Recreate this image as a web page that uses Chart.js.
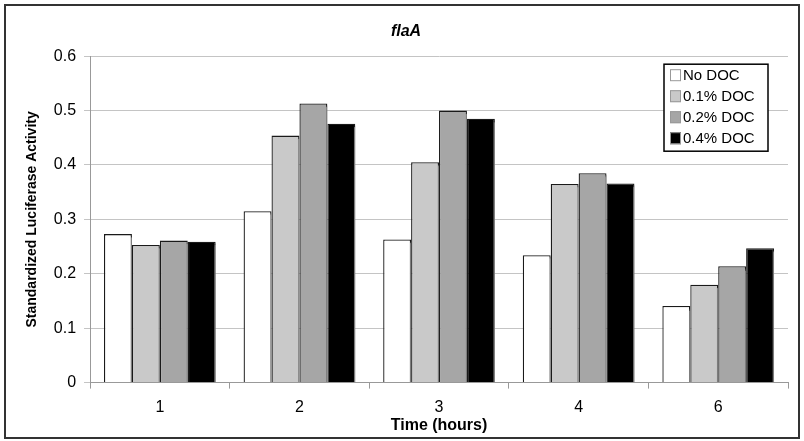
<!DOCTYPE html>
<html>
<head>
<meta charset="utf-8">
<script src="https://cdn.jsdelivr.net/npm/chart.js@4"></script>
<style>
  html, body { margin: 0; padding: 0; background: #fff; }
  #wrap { width: 804px; height: 441px; position: relative; }
</style>
</head>
<body>
<div id="wrap"><canvas id="flaChart"></canvas></div>
<script>
// data
const hours = ["1", "2", "3", "4", "6"];
const noDoc    = [0.273, 0.315, 0.263, 0.234, 0.141];
const doc01    = [0.253, 0.454, 0.405, 0.365, 0.180];
const doc02    = [0.261, 0.513, 0.500, 0.385, 0.214];
const doc04    = [0.259, 0.476, 0.485, 0.366, 0.247];
const yTicks   = [0, 0.1, 0.2, 0.3, 0.4, 0.5, 0.6];

const FONT = "'Liberation Sans', Arial, sans-serif";

function bar(label, data, color) {
  return {
    label: label,
    data: data,
    backgroundColor: color,
    borderColor: "#1a1a1a",
    borderWidth: 1.3,
    borderSkipped: "bottom",
    barPercentage: 1.0,
    categoryPercentage: 0.8,
  };
}

// grey drop shadow behind the bars
const shadowPlugin = {
  id: "barShadow",
  beforeDatasetsDraw(chart) {
    const ctx = chart.ctx;
    ctx.save();
    ctx.shadowColor = "rgba(150,150,150,0.8)";
    ctx.shadowOffsetX = 3;
    ctx.shadowOffsetY = 2;
    ctx.shadowBlur = 1;
  },
  afterDatasetsDraw(chart) {
    chart.ctx.restore();
  }
};

// boxed legend inside the plot + outer frame
const framePlugin = {
  id: "frame",
  afterDraw(chart) {
    const ctx = chart.ctx;
    const area = chart.chartArea;
    ctx.save();
    ctx.strokeStyle = "#333";
    ctx.lineWidth = 2;
    ctx.strokeRect(5, 5, 794, 433);

    const x0 = area.right - 124, y0 = area.top + 8, w = 104, h = 87;
    ctx.fillStyle = "#fff";
    ctx.fillRect(x0, y0, w, h);
    ctx.strokeStyle = "#000";
    ctx.lineWidth = 1.5;
    ctx.strokeRect(x0, y0, w, h);
    ctx.font = "15px " + FONT;
    ctx.textBaseline = "middle";
    chart.data.datasets.forEach(function (ds, i) {
      const cy = y0 + 11 + i * 21;
      ctx.fillStyle = ds.backgroundColor;
      ctx.fillRect(x0 + 6, cy - 6, 11, 12);
      ctx.strokeStyle = "#999";
      ctx.lineWidth = 1;
      ctx.strokeRect(x0 + 6.5, cy - 5.5, 10, 11);
      ctx.fillStyle = "#000";
      ctx.fillText(ds.label, x0 + 19, cy + 1);
    });
    ctx.restore();
  }
};

new Chart(document.getElementById("flaChart"), {
  type: "bar",
  data: {
    labels: hours,
    datasets: [
      bar("No DOC", noDoc, "#ffffff"),
      bar("0.1% DOC", doc01, "#c9c9c9"),
      bar("0.2% DOC", doc02, "#a6a6a6"),
      bar("0.4% DOC", doc04, "#000000"),
    ],
  },
  options: {
    responsive: true,
    maintainAspectRatio: false,
    animation: false,
    layout: { padding: { left: 24, right: 16, top: 0, bottom: 6 } },
    plugins: {
      legend: { display: false },
      tooltip: { enabled: false },
      title: {
        display: true,
        text: "flaA",
        color: "#000",
        font: { family: FONT, size: 16, weight: "bold", style: "italic" },
        padding: { top: 22, bottom: 15 },
      },
    },
    scales: {
      x: {
        offset: true,
        grid: { offset: true, drawOnChartArea: false, drawTicks: true, tickLength: 6, color: "#999" },
        border: { color: "#999", width: 1 },
        ticks: { color: "#000", padding: 9, font: { family: FONT, size: 16 } },
        title: {
          display: true,
          text: "Time (hours)",
          color: "#000",
          font: { family: FONT, size: 16, weight: "bold" },
          padding: { top: -10, bottom: 0 },
        },
      },
      y: {
        min: 0,
        max: 0.6,
        afterBuildTicks(axis) {
          axis.ticks = yTicks.map(function (v) { return { value: v }; });
        },
        grid: { color: "#c4c4c4", lineWidth: 1, tickLength: 6, drawTicks: true },
        border: { color: "#999", width: 1 },
        ticks: {
          color: "#000",
          padding: 8,
          font: { family: FONT, size: 16 },
          callback: function (v) { return v === 0 ? "0" : Number(v).toFixed(1); },
        },
        title: {
          display: true,
          text: "Standardized Luciferase Activity",
          color: "#000",
          font: { family: FONT, size: 14, weight: "bold" },
          padding: { top: 0, bottom: 5 },
        },
      },
    },
  },
  plugins: [shadowPlugin, framePlugin],
});
</script>
</body>
</html>
